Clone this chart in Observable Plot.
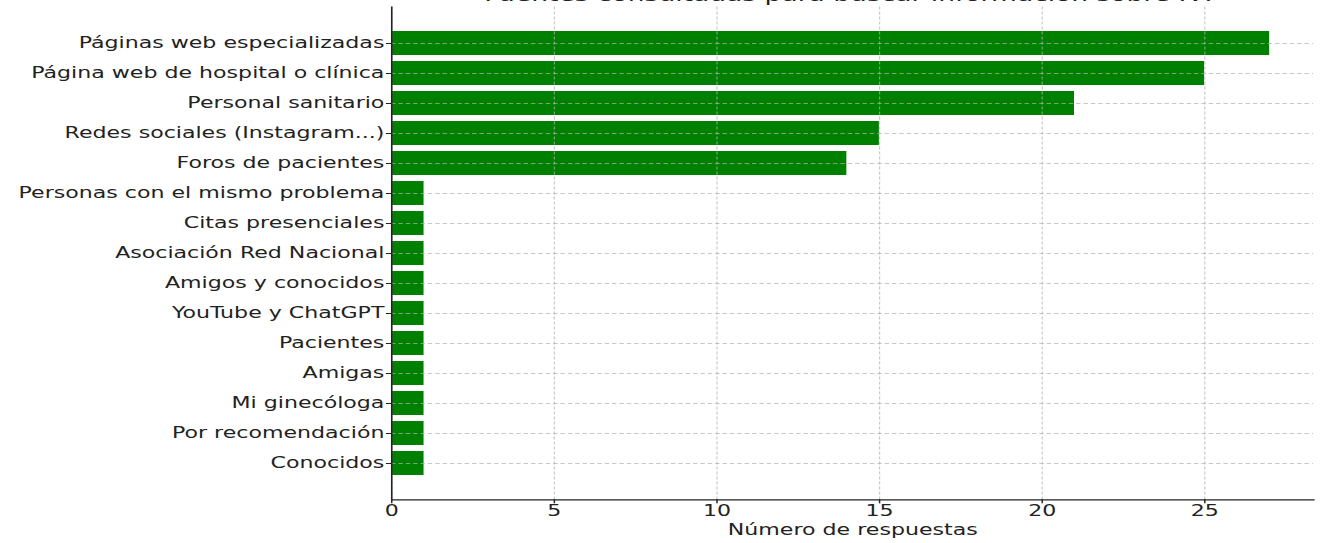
<!DOCTYPE html>
<html>
<head>
<meta charset="utf-8">
<script src="https://cdn.jsdelivr.net/npm/d3@7"></script>
<script src="https://cdn.jsdelivr.net/npm/@observablehq/plot@0.6"></script>
<style>
  html, body { margin: 0; padding: 0; background: #fff; overflow: hidden; }
  body { width: 1326px; height: 543px; position: relative; font-family: "DejaVu Sans", sans-serif; }
  #stage { position: absolute; top: 0; left: 0; width: 900px; height: 543px;
           transform: scaleX(1.47333); transform-origin: 0 0; }
  #title { position: absolute; top: -14px; left: 265.4px; width: 625.8px; text-align: center;
           font-size: 18px; line-height: 18px; color: #222; white-space: nowrap; }
  #chart { position: absolute; top: 0; left: 0; }
  #chart svg, #chart svg text { font-family: "DejaVu Sans", sans-serif !important; }
</style>
</head>
<body>
<div id="stage">
  <div id="title">Fuentes consultadas para buscar información sobre IVF</div>
  <div id="chart"></div>
</div>
<script>
const categories = [
  "Páginas web especializadas",
  "Página web de hospital o clínica",
  "Personal sanitario",
  "Redes sociales (Instagram...)",
  "Foros de pacientes",
  "Personas con el mismo problema",
  "Citas presenciales",
  "Asociación Red Nacional",
  "Amigos y conocidos",
  "YouTube y ChatGPT",
  "Pacientes",
  "Amigas",
  "Mi ginecóloga",
  "Por recomendación",
  "Conocidos"
];
const counts = [27, 25, 21, 15, 14, 1, 1, 1, 1, 1, 1, 1, 1, 1, 1];
const xTicks = [0, 5, 10, 15, 20, 25];
const xLabel = "Número de respuestas";

const data = categories.map((name, i) => ({name, value: counts[i]}));
const gridStyle = {stroke: "#b0b0b0", strokeOpacity: 0.7, strokeDasharray: "3,2", strokeWidth: 0.8};

const chart = Plot.plot({
  width: 900,
  height: 543,
  marginLeft: 265.4,
  marginRight: 8.8,
  marginTop: 6.4,
  marginBottom: 43.7,
  style: {fontFamily: '"DejaVu Sans", sans-serif', fontSize: "15px", color: "#222", background: "transparent"},
  x: {domain: [0, 28.35]},
  y: {domain: categories, paddingInner: 0.2, paddingOuter: 0.74},
  marks: [
    Plot.barX(data, {x: "value", y: "name", fill: "green"}),
    Plot.ruleX(xTicks, gridStyle),
    Plot.ruleY(categories, {y: d => d, ...gridStyle}),
    Plot.ruleX([0], {stroke: "#222", strokeWidth: 1.1}),
    Plot.frame({anchor: "bottom", stroke: "#222", strokeWidth: 1.2}),
    Plot.axisX({ticks: xTicks, tickSize: 4, tickPadding: 2, fontSize: 15,
                label: xLabel, labelAnchor: "center", labelArrow: "none", labelOffset: 35}),
    Plot.axisY({tickSize: 3.5, tickPadding: 1.5, fontSize: 15, label: null})
  ]
});
document.getElementById("chart").appendChild(chart);
</script>
</body>
</html>
